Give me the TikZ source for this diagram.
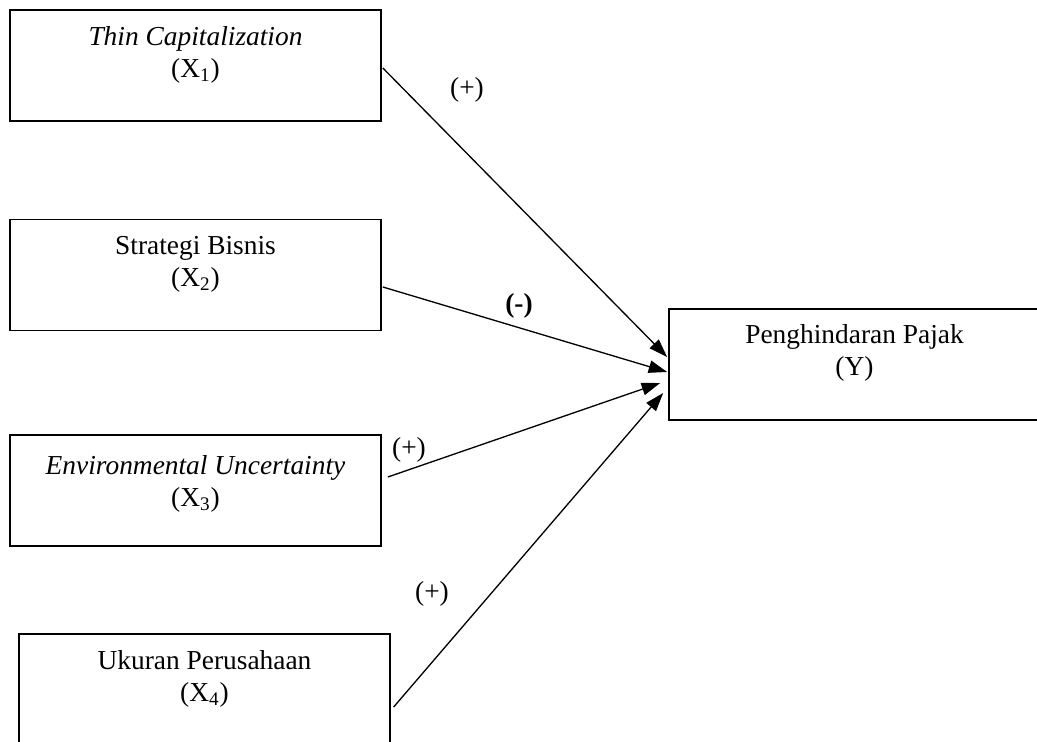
\documentclass[tikz,border=0pt]{standalone}
\usepackage{fontspec}
\setmainfont{Liberation Serif}
\usetikzlibrary{arrows.meta,calc}

\begin{document}
\begin{tikzpicture}[x=0.02cm,y=-0.02cm,font=\fontsize{15.6}{18.2}\selectfont,
  varbox/.style={draw,line width=1pt,minimum width=7.42cm,minimum height=2.22cm,inner sep=0pt},
  boxtext/.style={anchor=north,align=center,inner sep=0pt},
  link/.style={line width=0.75pt,-{Triangle[length=0.37cm,width=0.25cm]}}]
  \useasboundingbox (0,0) rectangle (1037,742);
  % variabel independen
  \node[varbox] (x1) at (195.5,65.5) {};
  \node[boxtext] (t1) at ($(x1.north)+(0,17)$) {\textit{Thin Capitalization}\\(X\textsubscript{1})};
  \node[varbox] (x2) at (195.5,275) {};
  \node[boxtext] (t2) at ($(x2.north)+(0,17)$) {Strategi Bisnis\\(X\textsubscript{2})};
  \node[varbox] (x3) at (195.5,490.5) {};
  \node[boxtext] (t3) at ($(x3.north)+(0,21)$) {\textit{Environmental Uncertainty}\\(X\textsubscript{3})};
  \node[varbox,line width=0.8pt] (x4) at (204.5,689.5) {};
  \node[boxtext] (t4) at ($(x4.north)+(0,17)$) {Ukuran Perusahaan\\(X\textsubscript{4})};
  % variabel dependen
  \node[varbox] (yy) at (854.5,364.5) {};
  \node[boxtext] (ty) at ($(yy.north)+(0,16)$) {Penghindaran Pajak\\(Y)};
  \foreach \n/\sx/\sy/\ex/\ey in {1/1/2.5/-1/-7.5,2/1/12/-1/7.5,3/6/-13.5/-8/18.5,4/3/17.5/-5/28.5}
    \draw[link] ($(x\n.east)+(\sx,\sy)$) -- ($(yy.west)+(\ex,\ey)$);
  \node (s1) at (467,90) {(+)};
  \node (s2) at (519,306) {\textbf{(-)}};
  \node (s3) at (409,450) {(+)};
  \node (s4) at (432,594) {(+)};
\end{tikzpicture}
\end{document}
